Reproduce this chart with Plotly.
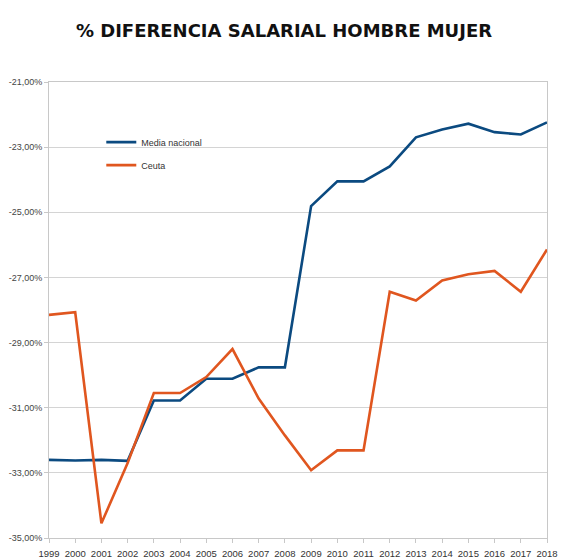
import plotly.graph_objects as go

years = list(range(1999, 2019))
year_labels = [str(y) for y in years]
media_nacional = [-32.60, -32.62, -32.60, -32.63, -30.78, -30.78, -30.11, -30.11, -29.76, -29.76,
                  -24.81, -24.05, -24.05, -23.59, -22.70, -22.46, -22.28, -22.54, -22.61, -22.24]
ceuta = [-28.15, -28.07, -34.55, -32.70, -30.55, -30.55, -30.06, -29.20, -30.72, -31.85,
         -32.92, -32.31, -32.31, -27.44, -27.71, -27.09, -26.90, -26.80, -27.44, -26.14]
y_ticks = [-35, -33, -31, -29, -27, -25, -23, -21]
y_tick_labels = ["-35,00%", "-33,00%", "-31,00%", "-29,00%", "-27,00%", "-25,00%", "-23,00%", "-21,00%"]

fig = go.Figure()
fig.add_trace(go.Scatter(x=years, y=media_nacional, mode="lines", name="Media nacional",
                         line=dict(color="#0b4a80", width=2.6), legendgroup="a"))
fig.add_trace(go.Scatter(x=years, y=ceuta, mode="lines", name="Ceuta",
                         line=dict(color="#e0561f", width=2.6), legendgroup="b"))

fig.update_layout(
    width=568, height=558,
    margin=dict(l=49, r=21, t=82, b=20, autoexpand=False),
    paper_bgcolor="white", plot_bgcolor="white",
    title=dict(text="<b>% DIFERENCIA SALARIAL HOMBRE MUJER</b>", x=0.5, xanchor="center",
               y=1 - 31 / 558, yanchor="middle",
               font=dict(family="DejaVu Sans", size=18, color="#111111")),
    showlegend=True,
    legend=dict(x=0.105, y=0.9, xanchor="left", yanchor="top",
                bgcolor="rgba(0,0,0,0)", tracegroupgap=4,
                font=dict(family="Liberation Sans", size=9, color="#333333")),
    xaxis=dict(range=[1999, 2018], tickmode="array", tickvals=years, ticktext=year_labels,
               showgrid=False, showline=True, linecolor="#c8c8c8", linewidth=1, mirror=True,
               ticks="outside", ticklen=4, tickcolor="#c8c8c8", automargin=False,
               ticklabelstandoff=3,
               tickfont=dict(family="Liberation Sans", size=9.5, color="#333333"), zeroline=False),
    yaxis=dict(range=[-35, -21], tickmode="array", tickvals=y_ticks, ticktext=y_tick_labels,
               showgrid=True, gridcolor="#d4d4d4", gridwidth=1,
               showline=True, linecolor="#c8c8c8", linewidth=1, mirror=True,
               ticks="outside", ticklen=4, tickcolor="#c8c8c8", automargin=False,
               tickfont=dict(family="Liberation Sans", size=9, color="#444444"), zeroline=False),
)

fig.write_html("out.html")
